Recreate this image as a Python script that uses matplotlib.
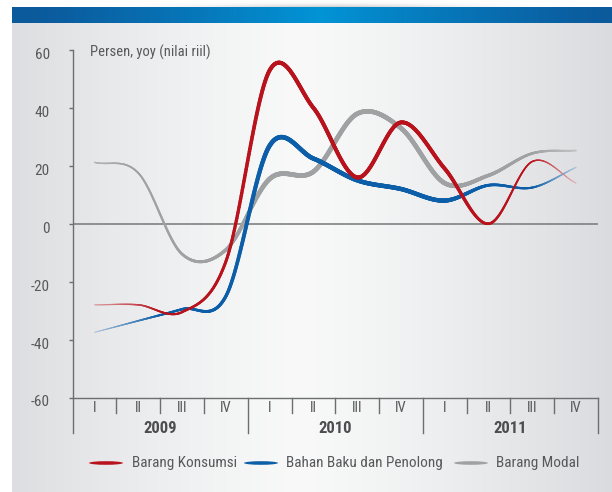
import numpy as np
import matplotlib
matplotlib.use("Agg")
import matplotlib.pyplot as plt
from matplotlib import font_manager as fm
from matplotlib.collections import LineCollection
from matplotlib.patches import Ellipse
from matplotlib.transforms import ScaledTranslation, blended_transform_factory

# ---- data (quarterly, % yoy, real values) ----
quarters = ["I", "II", "III", "IV"] * 3
years = ["2009", "2010", "2011"]
konsumsi = [-28, -28, -30.5, -13, 53, 40, 16, 35, 19, 0, 21.5, 14]
bahan_baku = [-37.5, -33.5, -29.5, -25, 27, 22.5, 15, 12, 8, 13.3, 12.5, 19.5]
modal = [21.2, 17.5, -10.5, -9, 15.5, 18, 38, 33, 14, 16.7, 24.3, 25.3]
series_names = ["Barang Konsumsi", "Bahan Baku dan Penolong", "Barang Modal"]

W, H = 612, 492


# ---- pick a narrow sans face if one is available ----
def pick_font():
    fonts = fm.fontManager.ttflist
    names = {f.name for f in fonts}
    for narrow in ["Liberation Sans Narrow", "Roboto Condensed", "Open Sans Condensed",
                   "Noto Sans Condensed", "DejaVu Sans Condensed"]:
        if narrow in names:
            return [narrow, "DejaVu Sans"], "normal"
    for fam in ["Liberation Sans", "Roboto", "Noto Sans", "Open Sans", "DejaVu Sans"]:
        for f in fonts:
            if f.name == fam and str(f.stretch) in ("condensed", "semi-condensed", "extra-condensed",
                                                    "75", "87.5", "62.5"):
                return [fam, "DejaVu Sans"], "condensed"
    return ["Liberation Sans", "DejaVu Sans"], "normal"


FONT, STRETCH = pick_font()
plt.rcParams["font.family"] = FONT
plt.rcParams["font.stretch"] = STRETCH
plt.rcParams["axes.unicode_minus"] = False

fig = plt.figure(figsize=(W / 100, H / 100), dpi=100)

# ---- background: white margin, blue header bar, soft grey gradient panel ----
xx = np.arange(W)[None, :].repeat(H, 0).astype(float)
yy = np.arange(H)[:, None].repeat(W, 1).astype(float)
dx = np.abs(xx - 300) / 300
v = 248 - 28 * np.clip(dx, 0, 1.1) ** 1.3
img = np.stack([v, v + 0.6, v + 4 * np.clip(dx, 0, 1)], axis=-1) / 255.0
bar = (yy >= 7) & (yy < 23)
w = np.clip(1 - np.abs(xx - 320) / 290, 0, 1) ** 1.2
dark = np.array([11, 90, 156]) / 255
light = np.array([2, 148, 214]) / 255
img[bar] = (dark[None, :] * (1 - w[bar][:, None]) + light[None, :] * w[bar][:, None])
top = yy < 7
shade = 1 - 0.22 * np.exp(-((xx - 330) / 120) ** 2) * (yy / 7) ** 2
img[top] = np.stack([shade[top]] * 3, axis=-1)
img[xx < 12] = 1.0
bg = fig.add_axes([0, 0, 1, 1], zorder=0)
bg.imshow(np.clip(img, 0, 1), extent=[0, W, H, 0], aspect="auto", interpolation="bilinear")
bg.set_axis_off()

# ---- main axes ----
left_px, right_px, top_px, bot_px = 72.7, 598, 50, 397.5
ax = fig.add_axes([left_px / W, 1 - bot_px / H, (right_px - left_px) / W, (bot_px - top_px) / H],
                  zorder=1)
ax.set_facecolor("none")
ax.set_xlim(-0.5, 11.5)
ax.set_ylim(-60, 60)
axis_col = "#6d6e70"
px = 0.72  # points per pixel at 100 dpi
for s in ["top", "right"]:
    ax.spines[s].set_visible(False)
for s in ["left", "bottom"]:
    ax.spines[s].set_color(axis_col)
    ax.spines[s].set_linewidth(1.4 * px)

ax.set_xticks([])
ax.set_yticks([-60, -40, -20, 0, 20, 40, 60])
ax.tick_params(axis="y", direction="out", length=4 * px, width=1.4 * px, color=axis_col,
               labelsize=11, labelcolor="#58595b", pad=19 * px)
for lab in ax.get_yticklabels():
    lab.set_transform(lab.get_transform() + ScaledTranslation(0, -3.5 / 100, fig.dpi_scale_trans))

ax.axhline(0, color="#7b7c7e", lw=1.6 * px, zorder=1)

# category axis: quarter ticks, year separators, labels
ax_h = bot_px - top_px
trans = blended_transform_factory(ax.transData, ax.transAxes)
year_bottom = -(433 - bot_px) / ax_h
q_bottom = -(413 - bot_px) / ax_h
ax.plot([-0.5, -0.5], [0, year_bottom], transform=trans, color=axis_col, lw=1.4 * px, clip_on=False)
for i in range(12):
    edge = i + 0.5
    yb = year_bottom if (i + 1) % 4 == 0 else q_bottom
    ax.plot([edge, edge], [0, yb], transform=trans, color=axis_col, lw=1.4 * px, clip_on=False)
    ax.text(i, -(408.5 - bot_px) / ax_h, quarters[i], transform=trans, ha="center", va="center",
            fontsize=10.5, color="#58595b")
for k, yr in enumerate(years):
    ax.text(4 * k + 1.5, -(428.5 - bot_px) / ax_h, yr, transform=trans, ha="center", va="center",
            fontsize=12, fontweight="bold", color="#4d4d4f")

fig.text(90 / W, 1 - 52.5 / H, "Persen, yoy (nilai riil)", ha="left", va="center",
         fontsize=10.5, color="#58595b")


# ---- smooth tapered lines ----
def smooth(xs, ys, n=80):
    p = np.asarray(ys, float)
    ext = np.concatenate([[2 * p[0] - p[1]], p, [2 * p[-1] - p[-2]]])
    ts, vs = [], []
    for i in range(len(p) - 1):
        s = np.linspace(0, 1, n, endpoint=(i == len(p) - 2))
        p0, p1, p2, p3 = ext[i:i + 4]
        m1, m2 = (p2 - p0) / 2, (p3 - p1) / 2
        h00 = 2 * s**3 - 3 * s**2 + 1
        h10 = s**3 - 2 * s**2 + s
        h01 = -2 * s**3 + 3 * s**2
        h11 = s**3 - s**2
        vs.append(h00 * p1 + h10 * m1 + h01 * p2 + h11 * m2)
        ts.append(xs[i] + s * (xs[i + 1] - xs[i]))
    return np.concatenate(ts), np.concatenate(vs)


def tapered(ax, xs, ys, color, wk, ak, z):
    t, y = smooth(xs, ys)
    pts = np.column_stack([t, y]).reshape(-1, 1, 2)
    segs = np.concatenate([pts[:-1], pts[1:]], axis=1)
    tm = (t[:-1] + t[1:]) / 2
    widths = np.interp(tm, *wk) * px
    alpha = np.interp(tm, *ak)
    base = np.array(matplotlib.colors.to_rgb(color))
    paper = np.array([0.94, 0.94, 0.945])
    cols = base[None, :] * alpha[:, None] + paper[None, :] * (1 - alpha[:, None])
    lc = LineCollection(segs, linewidths=widths, colors=cols, capstyle="round", zorder=z)
    ax.add_collection(lc)


xs = np.arange(12)
red, blue, grey = "#b8121c", "#0b5ea7", "#a0a1a3"
tapered(ax, xs, modal, grey,
        ([0, 1, 2, 3, 4, 8, 9, 10, 11], [1.3, 1.8, 2.6, 3.4, 4.7, 4.5, 3.5, 2.5, 1.5]),
        ([0, 1, 10, 11], [0.8, 1, 1, 0.6]), 3)
tapered(ax, xs, bahan_baku, blue,
        ([0, 1, 2, 3, 4, 8, 9, 10, 11], [0.8, 1.6, 2.4, 3.3, 4.5, 4.3, 2.8, 2.0, 1.0]),
        ([0, 1.5, 10, 11], [0.3, 1, 1, 0.3]), 4)
tapered(ax, xs, konsumsi, red,
        ([0, 1, 2, 3, 4, 8, 9, 10, 11], [1.0, 1.5, 2.2, 3.0, 4.0, 3.8, 2.6, 1.5, 0.8]),
        ([0, 1.5, 10, 11], [0.35, 1, 1, 0.3]), 5)

# ---- legend ----
leg_y = 463
for name, col, lx, tx in [(series_names[0], red, 106, 132),
                          (series_names[1], blue, 261, 286),
                          (series_names[2], grey, 471, 496)]:
    fig.add_artist(Ellipse((lx / W, 1 - leg_y / H), 34 / W, 3.6 / H, transform=fig.transFigure,
                           facecolor=col, edgecolor="none"))
    fig.text(tx / W, 1 - leg_y / H, name, ha="left", va="center", fontsize=11, color="#58595b")

fig.savefig("out.png", dpi=100)
